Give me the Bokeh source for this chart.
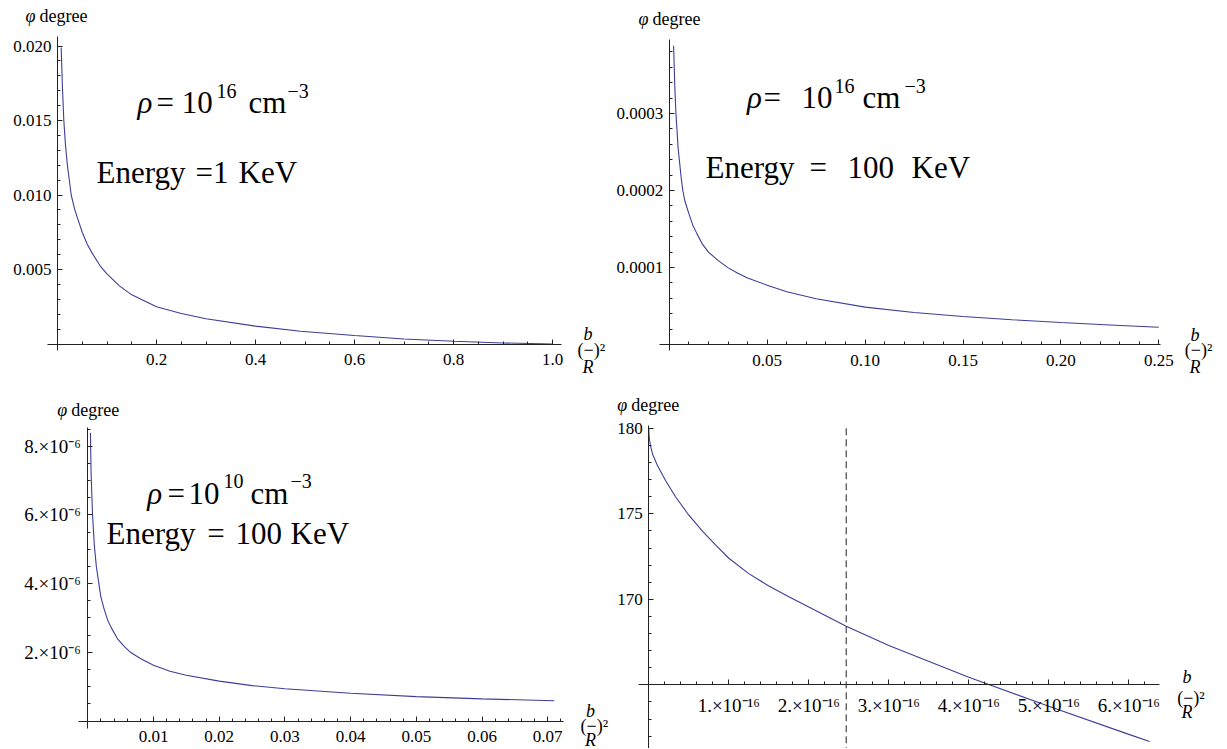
import numpy as np
from bokeh.plotting import figure
from bokeh.models import Range1d, LinearAxis, FixedTicker, CustomJSTickFormatter, Label
from bokeh.layouts import row, column
from bokeh.embed import file_html
from bokeh.resources import INLINE

# ---------------- data ----------------
# panel 1: rho = 1e16 cm^-3, E = 1 KeV
x1 = [0.0074, 0.010, 0.0128, 0.016, 0.020, 0.0277, 0.035, 0.040, 0.050, 0.060,
      0.070, 0.087, 0.100, 0.125, 0.150, 0.200, 0.250, 0.300, 0.400, 0.491,
      0.600, 0.700, 0.800, 0.900, 1.000]
y1 = [0.0199, 0.0172, 0.0150, 0.0134, 0.0120, 0.0100, 0.0090, 0.0085, 0.0075, 0.0067,
      0.0061, 0.0052, 0.0047, 0.0039, 0.0033, 0.0025, 0.00205, 0.0017, 0.00120, 0.00086,
      0.00057, 0.00034, 0.00018, 0.00007, 0.0]
x1_ticks = [0.2, 0.4, 0.6, 0.8, 1.0]
y1_ticks = [0.005, 0.010, 0.015, 0.020]

# panel 2: rho = 1e16 cm^-3, E = 100 KeV
x2 = [0.0022, 0.0028, 0.0034, 0.0045, 0.0060, 0.0069, 0.0080, 0.0100, 0.0120, 0.0141,
      0.0170, 0.0200, 0.0250, 0.0301, 0.0350, 0.0400, 0.0500, 0.0600, 0.0750, 0.1000,
      0.1250, 0.1500, 0.1750, 0.2000, 0.2250, 0.2500]
y2 = [3.88e-4, 3.35e-4, 3.00e-4, 2.55e-4, 2.18e-4, 2.00e-4, 1.86e-4, 1.70e-4, 1.55e-4, 1.44e-4,
      1.30e-4, 1.20e-4, 1.09e-4, 0.995e-4, 0.925e-4, 0.865e-4, 7.70e-5, 6.85e-5, 5.95e-5, 4.85e-5,
      4.15e-5, 3.64e-5, 3.22e-5, 2.86e-5, 2.54e-5, 2.25e-5]
x2_ticks = [0.05, 0.10, 0.15, 0.20, 0.25]
y2_ticks = [0.0001, 0.0002, 0.0003]

# panel 3: rho = 1e10 cm^-3, E = 100 KeV
x3 = [0.0004, 0.0005, 0.00072, 0.0010, 0.0013, 0.00168, 0.0020, 0.0025, 0.0030, 0.0035,
      0.0045, 0.0055, 0.0065, 0.0080, 0.0100, 0.0125, 0.0150, 0.0200, 0.0250, 0.0300,
      0.0400, 0.0500, 0.0600, 0.0710]
y3 = [8.39e-6, 7.20e-6, 6.00e-6, 5.10e-6, 4.50e-6, 4.00e-6, 3.60e-6, 3.25e-6, 2.95e-6, 2.74e-6,
      2.40e-6, 2.18e-6, 2.00e-6, 1.82e-6, 1.62e-6, 1.45e-6, 1.33e-6, 1.16e-6, 1.03e-6, 0.94e-6,
      0.81e-6, 0.71e-6, 0.645e-6, 0.59e-6]
x3_ticks = [0.01, 0.02, 0.03, 0.04, 0.05, 0.06, 0.07]
y3_ticks = [2e-6, 4e-6, 6e-6, 8e-6]

# panel 4: angle near 180 degrees
x4 = [0.0, 0.002e-16, 0.005e-16, 0.01e-16, 0.02e-16, 0.05e-16, 0.105e-16, 0.209e-16,
      0.334e-16, 0.4875e-16, 0.6675e-16, 0.834e-16, 1.0e-16, 1.25e-16, 1.5e-16,
      1.75e-16, 2.0e-16, 2.4675e-16, 3.0e-16, 4.0e-16, 5.0e-16, 6.0e-16, 6.26e-16]
y4 = [180.0, 179.69, 179.5, 179.3, 179.0, 178.45, 177.85, 176.95,
      176.0, 175.0, 174.0, 173.18, 172.4, 171.5, 170.78,
      170.15, 169.55, 168.43, 167.30, 165.44, 163.75, 162.1, 161.68]
x4_ticks = [1e-16, 2e-16, 3e-16, 4e-16, 5e-16, 6e-16]
y4_ticks = [170, 175, 180]
x4_marker = 2.4675e-16      # dashed vertical line
y4_axis_cross = 165         # horizontal axis drawn at this value

# ---------------- styling ----------------
FONT = "Liberation Serif"
CURVE = "#3d3d99"
AXIS = "#222222"
TICK_FS = "17px"
SCI_FS = "19px"
BIG_FS = "31px"
SUP_FS = "20px"
SMALL_FS = "18px"
FRAC_FS = "18px"


def make_panel(box, xcal, ycal):
    """box = (left, top, w, h) in page pixels; cal = (pixel, value, pixels per unit)."""
    left, top, w, h = box

    def fx(px):
        return xcal[1] + (px - xcal[0]) / xcal[2]

    def fy(py):
        return ycal[1] + (ycal[0] - py) / ycal[2]

    p = figure(width=w, height=h,
               x_range=Range1d(fx(left), fx(left + w)),
               y_range=Range1d(fy(top + h), fy(top)),
               output_backend="svg", toolbar_location=None,
               x_axis_location=None, y_axis_location=None,
               min_border=0, min_border_left=0, min_border_right=0,
               min_border_top=0, min_border_bottom=0,
               outline_line_color=None, background_fill_color="white",
               border_fill_color="white")
    p.grid.visible = False
    return p, fx, fy


def add_axis(p, side, cross, bounds, ticks, minor, code, standoff, size=TICK_FS):
    ax = LinearAxis(fixed_location=cross, bounds=bounds,
                    ticker=FixedTicker(ticks=ticks, minor_ticks=list(minor)),
                    formatter=CustomJSTickFormatter(code=code),
                    axis_line_color=AXIS, axis_line_width=1,
                    major_tick_line_color=AXIS, minor_tick_line_color=AXIS,
                    major_tick_in=5, major_tick_out=0,
                    minor_tick_in=3, minor_tick_out=0,
                    major_label_text_font=FONT, major_label_text_font_size=size,
                    major_label_text_color="black",
                    major_label_standoff=standoff)
    p.add_layout(ax, side)
    return ax


def txt(p, fx, fy, px, py, text, size, italic=False, align="left"):
    p.add_layout(Label(x=fx(px), y=fy(py), text=text, text_font=FONT,
                       text_font_size=size,
                       text_font_style="italic" if italic else "normal",
                       text_align=align, text_baseline="alphabetic",
                       text_color="black"))


def phi_label(p, fx, fy, px, py):
    txt(p, fx, fy, px, py, "φ", SMALL_FS, italic=True)
    txt(p, fx, fy, px + 14, py, "degree", SMALL_FS)


def frac_label(p, fx, fy, left, center, yb, ym, yr):
    txt(p, fx, fy, center, yb, "b", FRAC_FS, italic=True, align="center")
    txt(p, fx, fy, left, ym, "(−)²", FRAC_FS)
    txt(p, fx, fy, center, yr, "R", FRAC_FS, italic=True, align="center")


TOP_H = 382
LEFT_W = 610
TOTAL_W = 1226
TOTAL_H = 748

# ---------------- panel 1 ----------------
p1, fx1, fy1 = make_panel((0, 0, LEFT_W, TOP_H), (57, 0.0, 495.0), (343.5, 0.0, 14900.0))
p1.line(x1, y1, line_color=CURVE, line_width=1.1)
add_axis(p1, "below", 0, (fx1(47), fx1(560.5)), x1_ticks, np.arange(0, 1.0001, 0.05),
         "return tick.toFixed(1);", 10)
add_axis(p1, "left", 0, (fy1(350), fy1(36)), y1_ticks, np.arange(0, 0.02051, 0.001),
         "return tick.toFixed(3);", 6)
phi_label(p1, fx1, fy1, 25, 15.5)
txt(p1, fx1, fy1, 137, 101.7, "ρ", BIG_FS, italic=True)
txt(p1, fx1, fy1, 156, 101.7, "= 10", BIG_FS)
txt(p1, fx1, fy1, 216, 90, "16", SUP_FS)
txt(p1, fx1, fy1, 248, 101.7, "cm", BIG_FS)
txt(p1, fx1, fy1, 287, 90, "−3", SUP_FS)
txt(p1, fx1, fy1, 96, 171.7, "Energy", BIG_FS)
txt(p1, fx1, fy1, 195, 171.7, "=1", BIG_FS)
txt(p1, fx1, fy1, 238, 171.7, "KeV", BIG_FS)
frac_label(p1, fx1, fy1, 577, 587.5, 333.3, 349, 366.5)

# ---------------- panel 2 ----------------
p2, fx2, fy2 = make_panel((LEFT_W, 0, TOTAL_W - LEFT_W, TOP_H), (668.8, 0.0, 1958.0),
                          (344.0, 0.0, 770000.0))
p2.line(x2, y2, line_color=CURVE, line_width=1.1)
add_axis(p2, "below", 0, (fx2(659.4), fx2(1159.5)), x2_ticks, np.arange(0, 0.25001, 0.01),
         "return tick.toFixed(2);", 10)
add_axis(p2, "left", 0, (fy2(350), fy2(39.3)), y2_ticks, np.arange(0, 0.000385, 0.00002),
         "return tick.toFixed(4);", 6)
phi_label(p2, fx2, fy2, 638, 18)
txt(p2, fx2, fy2, 746.6, 96.7, "ρ", BIG_FS, italic=True)
txt(p2, fx2, fy2, 763, 96.7, "=", BIG_FS)
txt(p2, fx2, fy2, 801, 96.7, "10", BIG_FS)
txt(p2, fx2, fy2, 834, 85, "16", SUP_FS)
txt(p2, fx2, fy2, 862, 96.7, "cm", BIG_FS)
txt(p2, fx2, fy2, 904, 85, "−3", SUP_FS)
txt(p2, fx2, fy2, 705, 166.7, "Energy", BIG_FS)
txt(p2, fx2, fy2, 809, 166.7, "=", BIG_FS)
txt(p2, fx2, fy2, 847, 166.7, "100", BIG_FS)
txt(p2, fx2, fy2, 911, 166.7, "KeV", BIG_FS)
frac_label(p2, fx2, fy2, 1184.3, 1194.5, 334, 349.5, 366.5)

# ---------------- panel 3 ----------------
p3, fx3, fy3 = make_panel((0, TOP_H, LEFT_W, TOTAL_H - TOP_H), (87.3, 0.0, 6570.0),
                          (720.5, 0.0, 3.435e7))
p3.line(x3, y3, line_color=CURVE, line_width=1.1)
add_axis(p3, "below", 0, (fx3(77.7), fx3(562.7)), x3_ticks, np.arange(0, 0.07201, 0.002),
         "return tick.toFixed(2);", 10)
add_axis(p3, "left", 0, (fy3(728), fy3(426.7)), y3_ticks, np.arange(0, 8.51e-6, 0.5e-6),
         "return Math.round(tick*1e6) + '.\u00d710\u207b\u2076';", 7, SCI_FS)
phi_label(p3, fx3, fy3, 56.7, 409.3)
txt(p3, fx3, fy3, 146.7, 492.7, "ρ", BIG_FS, italic=True)
txt(p3, fx3, fy3, 167, 492.7, "=", BIG_FS)
txt(p3, fx3, fy3, 188, 492.7, "10", BIG_FS)
txt(p3, fx3, fy3, 223, 480, "10", SUP_FS)
txt(p3, fx3, fy3, 250, 492.7, "cm", BIG_FS)
txt(p3, fx3, fy3, 290, 480, "−3", SUP_FS)
txt(p3, fx3, fy3, 106, 532.7, "Energy", BIG_FS)
txt(p3, fx3, fy3, 206.7, 532.7, "=", BIG_FS)
txt(p3, fx3, fy3, 235, 532.7, "100", BIG_FS)
txt(p3, fx3, fy3, 290, 532.7, "KeV", BIG_FS)
frac_label(p3, fx3, fy3, 580, 590, 710, 725, 739)

# ---------------- panel 4 ----------------
p4, fx4, fy4 = make_panel((LEFT_W, TOP_H, TOTAL_W - LEFT_W, TOTAL_H - TOP_H),
                          (648.3, 0.0, 8.0e17), (684.3, 165.0, 17.1))
p4.line([x4_marker, x4_marker], [y4[0], fy4(760)], line_color="#222222",
        line_width=1, line_dash="7 4")
p4.line(x4, y4, line_color=CURVE, line_width=1.1)
add_axis(p4, "below", y4_axis_cross, (fx4(638.2), fx4(1159.3)), x4_ticks,
         np.arange(0, 6.21e-16, 0.2e-16),
         "return Math.round(tick*1e16) + '.\u00d710\u207b\u00b9\u2076';", 10, SCI_FS)
add_axis(p4, "left", 0, (fy4(760), fy4(425)), y4_ticks, np.arange(161, 180.5, 1),
         "return tick.toFixed(0);", 6)
phi_label(p4, fx4, fy4, 616.7, 404)
frac_label(p4, fx4, fy4, 1176.7, 1186.5, 676.7, 697, 711.7)

layout = column(row(p1, p2), row(p3, p4))

with open("out.html", "w", encoding="utf-8") as f:
    f.write(file_html(layout, INLINE))
